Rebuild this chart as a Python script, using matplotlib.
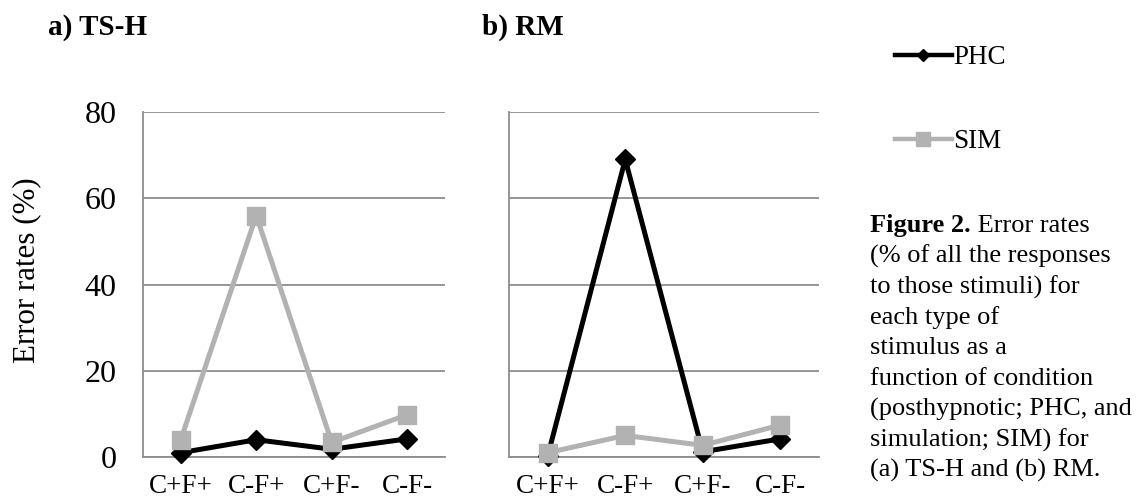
import matplotlib
matplotlib.use("Agg")
import matplotlib.pyplot as plt

plt.rcParams['font.family'] = ['Liberation Serif', 'DejaVu Serif']

categories = ["C+F+", "C-F+", "C+F-", "C-F-"]
tsh_phc = [1.0, 4.0, 1.8, 4.2]
tsh_sim = [4.0, 56.0, 3.4, 9.8]
rm_phc = [0.3, 69.0, 1.2, 4.2]
rm_sim = [1.0, 5.0, 2.7, 7.4]
yticks = [0, 20, 40, 60, 80]
series_names = ["PHC", "SIM"]

BLACK = "#000000"
GRAY = "#b2b2b2"
GRID = "#8e8e8e"

W, H = 1142, 501
fig = plt.figure(figsize=(W / 100, H / 100), dpi=100)

def fx(px):
    return px / W

def fy(py):
    return 1 - py / H

ax_a = fig.add_axes([fx(143), fy(457), fx(445) - fx(143), fy(112) - fy(457)])
ax_b = fig.add_axes([fx(509), fy(457), fx(819) - fx(509), fy(112) - fy(457)])

x = list(range(len(categories)))
for ax, phc, sim in [(ax_a, tsh_phc, tsh_sim), (ax_b, rm_phc, rm_sim)]:
    ax.set_xlim(-0.5, len(categories) - 0.5)
    ax.set_ylim(0, 80)
    ax.set_yticks(yticks)
    ax.grid(axis='y', color=GRID, linewidth=1.3)
    ax.set_axisbelow(True)
    for s in ['top', 'right']:
        ax.spines[s].set_visible(False)
    for s in ['left', 'bottom']:
        ax.spines[s].set_color(GRID)
        ax.spines[s].set_linewidth(1.3)
    ax.tick_params(length=0)
    ax.tick_params(axis='y', pad=19, labelsize=23)
    ax.tick_params(axis='x', pad=12.5, labelsize=19.5)
    ax.set_xticks(x)
    ax.set_xticklabels(categories)
    ax.plot(x, phc, color=BLACK, linewidth=3.6, marker='D', markersize=10,
            markerfacecolor=BLACK, markeredgecolor=BLACK, zorder=3, clip_on=False)
    ax.plot(x, sim, color=GRAY, linewidth=3.6, marker='s', markersize=13,
            markerfacecolor=GRAY, markeredgecolor=GRAY, zorder=4, clip_on=False)

ax_b.set_yticklabels([])

fig.text(fx(27), fy(270), "Error rates (%)", rotation=90, fontsize=22.3,
         ha='center', va='center')
fig.text(fx(48), fy(35), "a) TS-H", fontsize=21, fontweight='bold',
         ha='left', va='baseline')
fig.text(fx(482), fy(35), "b) RM", fontsize=21, fontweight='bold',
         ha='left', va='baseline')

# legend entries
from matplotlib.lines import Line2D
h_phc = Line2D([], [], color=BLACK, linewidth=3.2, marker='D', markersize=6.5,
               markerfacecolor=BLACK)
h_sim = Line2D([], [], color=GRAY, linewidth=3.2, marker='s', markersize=10,
               markerfacecolor=GRAY, markeredgecolor=GRAY)
for h, name, ypx in [(h_phc, series_names[0], 58), (h_sim, series_names[1], 142)]:
    leg = fig.legend([h], [name], loc='center left',
                     bbox_to_anchor=(fx(895), fy(ypx)), frameon=False,
                     borderaxespad=0, borderpad=0, handlelength=2.1,
                     handletextpad=0.05, numpoints=1, fontsize=19.5)

# caption
caption_lines = [
    "(% of all the responses",
    "to those stimuli) for",
    "each type of",
    "stimulus as a",
    "function of condition",
    "(posthypnotic; PHC, and",
    "simulation; SIM) for",
    "(a) TS-H and (b) RM.",
]
cap_fs = 19
t_bold = fig.text(fx(870), fy(232), "Figure 2.", fontsize=cap_fs,
                  fontweight='bold', ha='left', va='baseline')
fig.canvas.draw()
bb = t_bold.get_window_extent()
fig.text(bb.x1 / W, fy(232), " Error rates", fontsize=cap_fs,
         ha='left', va='baseline')
for i, line in enumerate(caption_lines):
    fig.text(fx(870), fy(232 + 30.6 * (i + 1)), line, fontsize=cap_fs,
             ha='left', va='baseline')

fig.savefig("out.png", dpi=100)
